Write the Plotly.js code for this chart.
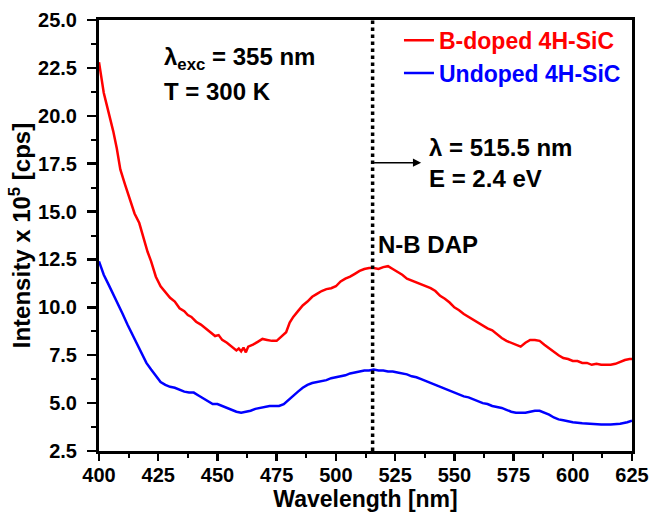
<!DOCTYPE html>
<html>
<head>
<meta charset="utf-8">
<script src="https://cdn.plot.ly/plotly-3.0.1.min.js"></script>
<style>html,body{margin:0;padding:0;background:#fff;}</style>
</head>
<body>
<div id="chart" style="width:664px;height:513px;"></div>
<script>
// Wavelength (nm) and intensity (x 10^5 cps)
const dopedWavelength = [400,401,402,403,404.5,406,407.5,409,411,413,415,417,419,420.5,422,424,426,428,430,432,434,436,437.5,439,441,443,445,447,449,450.5,452,454,456,458,459,460,461,462,463,465,467,469,471,473,475,477,479,480.5,482,484,486,488,490,492,494,496,498,500,502,504,506,508,510,512,514,516,518,520,522,524,526,528,530,532,534,536,538,540,542,544,546,548,550,552,554,556,558,560,562,564,566,568,570,572,574,576,578,580,582,584,586,588,590,592,594,596,598,600,602,604,606,608,610,612,614,616,618,620,622,624,625];
const dopedIntensity = [22.8,22.0,21.2,20.7,20.0,19.2,18.3,17.2,16.4,15.6,14.9,14.4,13.5,12.9,12.4,11.6,11.1,10.8,10.5,10.3,9.95,9.8,9.6,9.5,9.25,9.1,8.9,8.7,8.5,8.55,8.3,8.15,7.95,7.75,7.85,7.7,7.9,7.65,7.95,8.05,8.2,8.35,8.3,8.25,8.25,8.45,8.7,9.2,9.5,9.8,10.1,10.3,10.55,10.7,10.85,10.95,11.0,11.1,11.35,11.5,11.6,11.75,11.9,12.0,12.05,12.05,12.0,12.1,12.15,12.0,11.85,11.7,11.5,11.4,11.3,11.2,11.1,11.0,10.85,10.6,10.45,10.25,10.0,9.85,9.65,9.5,9.35,9.2,9.05,8.9,8.8,8.6,8.4,8.25,8.15,8.05,7.95,8.15,8.3,8.3,8.25,8.05,7.85,7.65,7.5,7.35,7.3,7.2,7.2,7.1,7.1,7.0,7.05,7.0,7.0,7.0,7.05,7.15,7.25,7.3,7.3];

const undopedWavelength = [400,402,404,406,408,410,412,414,416,418,420,422,424,426,428,430,432,434,436,438,440,442,444,446,448,450,452,454,456,458,460,462,464,466,468,470,472,474,476,478,480,482,484,486,488,490,492,494,496,498,500,502,504,506,508,510,512,514,516,518,520,522,524,526,528,530,532,534,536,538,540,542,544,546,548,550,552,554,556,558,560,562,564,566,568,570,572,574,576,578,580,582,584,586,588,590,592,594,596,598,600,604,608,612,616,620,623,625];
const undopedIntensity = [12.4,11.7,11.2,10.7,10.2,9.65,9.1,8.6,8.1,7.6,7.1,6.75,6.4,6.1,5.95,5.85,5.8,5.7,5.6,5.55,5.55,5.4,5.25,5.1,4.95,4.95,4.85,4.75,4.65,4.55,4.5,4.55,4.6,4.7,4.75,4.8,4.85,4.85,4.85,4.95,5.15,5.35,5.6,5.8,5.95,6.05,6.1,6.15,6.2,6.3,6.35,6.4,6.45,6.55,6.6,6.65,6.7,6.7,6.75,6.7,6.7,6.65,6.65,6.6,6.55,6.5,6.4,6.35,6.25,6.15,6.05,5.95,5.85,5.75,5.65,5.55,5.45,5.35,5.3,5.2,5.1,5.0,4.95,4.85,4.8,4.75,4.65,4.55,4.5,4.5,4.5,4.55,4.6,4.6,4.5,4.4,4.25,4.15,4.1,4.05,4.0,3.95,3.9,3.88,3.88,3.92,4.0,4.08];

const seriesNames = ['B-doped 4H-SiC', 'Undoped 4H-SiC'];
const seriesColors = ['#ff0000', '#0000ff'];
const peakWavelength = [515.5];
const xTickValues = [400,425,450,475,500,525,550,575,600,625];
const yTickValues = [2.5,5.0,7.5,10.0,12.5,15.0,17.5,20.0,22.5,25.0];

const fontFam = 'Liberation Sans, Arial, sans-serif';
const bold = (s) => ({size: s, family: fontFam, weight: 'bold', color: '#000'});

const traces = [
  {x: dopedWavelength, y: dopedIntensity, type: 'scatter', mode: 'lines',
   name: '<span style="color:' + seriesColors[0] + '">' + seriesNames[0] + '</span>',
   line: {color: seriesColors[0], width: 2.5}},
  {x: undopedWavelength, y: undopedIntensity, type: 'scatter', mode: 'lines',
   name: '<span style="color:' + seriesColors[1] + '">' + seriesNames[1] + '</span>',
   line: {color: seriesColors[1], width: 2.5}}
];

const layout = {
  width: 664, height: 513,
  margin: {l: 99, r: 32, t: 20, b: 62},
  paper_bgcolor: '#fff', plot_bgcolor: '#fff',
  font: {family: fontFam, color: '#000', weight: 'bold'},
  showlegend: true,
  legend: {x: 0.5628, y: 1.003, xanchor: 'left', yanchor: 'top',
           bgcolor: 'rgba(0,0,0,0)', font: bold(23),
           tracegroupgap: 0, itemwidth: 30},
  xaxis: {
    range: [400, 625], tickvals: xTickValues, ticktext: xTickValues.map(String),
    showgrid: false, zeroline: false,
    showline: true, linewidth: 3, linecolor: '#000', mirror: true,
    ticks: 'outside', ticklen: 7, tickwidth: 2.5, tickcolor: '#000',
    minor: {dtick: 12.5, tick0: 400, ticks: 'outside', ticklen: 4, tickwidth: 2, tickcolor: '#000', showgrid: false},
    tickfont: bold(20), ticklabelstandoff: -3,
    title: {text: 'Wavelength [nm]', font: bold(23), standoff: 6}
  },
  yaxis: {
    range: [2.5, 25], tickvals: yTickValues, ticktext: yTickValues.map(v => v.toFixed(1)),
    showgrid: false, zeroline: false,
    showline: true, linewidth: 3, linecolor: '#000', mirror: true,
    ticks: 'outside', ticklen: 9, tickwidth: 2.5, tickcolor: '#000',
    minor: {dtick: 1.25, tick0: 2.5, ticks: 'outside', ticklen: 5, tickwidth: 2, tickcolor: '#000', showgrid: false},
    tickfont: bold(20), ticklabelstandoff: 6,
    title: {text: 'Intensity x 10<sup>5</sup> [cps]', font: bold(24), standoff: 1}
  },
  shapes: [
    {type: 'line', xref: 'x', yref: 'paper', x0: peakWavelength[0], x1: peakWavelength[0], y0: 0, y1: 1,
     line: {color: '#000', width: 3.5, dash: 'dot'}}
  ],
  annotations: [
    {xref: 'x', yref: 'y', x: 536, y: 17.55, axref: 'x', ayref: 'y', ax: peakWavelength[0], ay: 17.55,
     showarrow: true, arrowhead: 2, arrowsize: 1.1, arrowwidth: 1.5, arrowcolor: '#000', text: ''},
    {xref: 'x', yref: 'y', x: 538.5, y: 17.55, xanchor: 'left', yanchor: 'middle', showarrow: false, align: 'left',
     text: 'λ = 515.5 nm<br>E = 2.4 eV', font: bold(24)},
    {xref: 'x', yref: 'y', x: 426.5, y: 23.0, xanchor: 'left', yanchor: 'middle', showarrow: false, align: 'left',
     text: 'λ<sub>exc</sub> = 355 nm', font: bold(24)},
    {xref: 'x', yref: 'y', x: 426.5, y: 21.25, xanchor: 'left', yanchor: 'middle', showarrow: false, align: 'left',
     text: 'T = 300 K', font: bold(24)},
    {xref: 'x', yref: 'y', x: 517, y: 13.28, xanchor: 'left', yanchor: 'middle', showarrow: false,
     text: 'N-B DAP', font: bold(24)}
  ]
};

Plotly.newPlot('chart', traces, layout, {displayModeBar: false, staticPlot: true});
</script>
</body>
</html>
